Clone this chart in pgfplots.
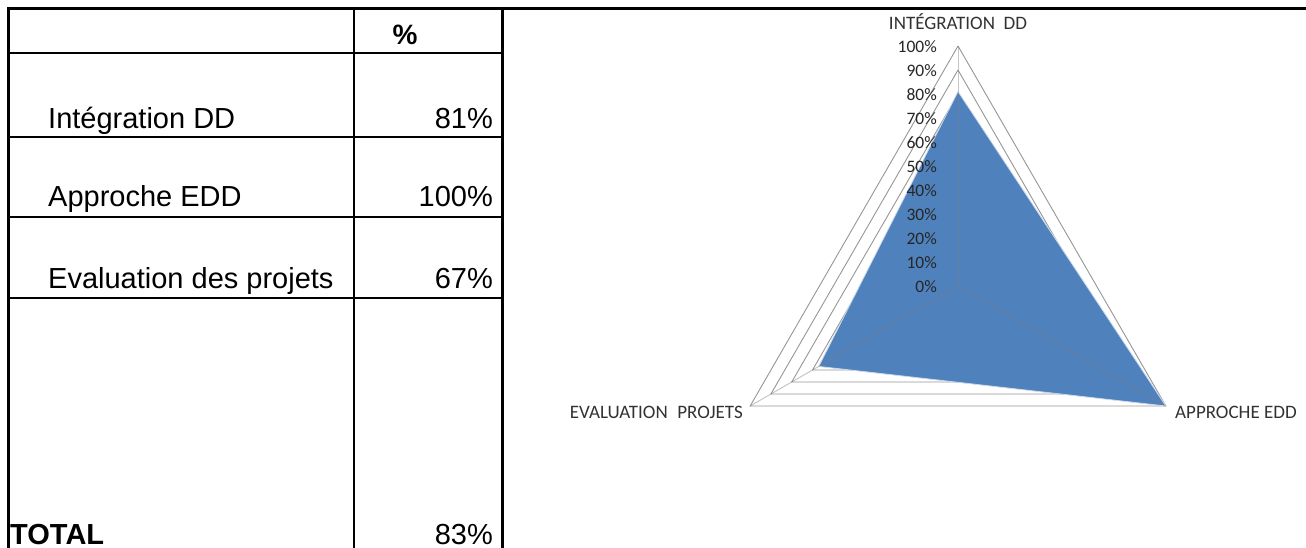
\documentclass[border=0pt]{standalone}
\usepackage{fontspec}
\setmainfont{Liberation Sans}
\newfontfamily\calfont{Carlito}
\usepackage{pgfplots}
\pgfplotsset{compat=1.18}
\usepgfplotslibrary{polar}
\definecolor{xlblue}{RGB}{79,129,189}
\definecolor{gridgray}{RGB}{150,150,150}
\definecolor{labgray}{RGB}{50,50,50}
\begin{document}
\begin{tikzpicture}
\useasboundingbox (0bp,0bp) rectangle (1306bp,548bp);
\begin{scope}[x=1bp,y=1bp]
\clip (0,0) rectangle (1306,548);
% table frame
\draw[line width=3bp] (7,539) -- (1306,539);
\draw[line width=2.5bp] (8.5,539) -- (8.5,0);
\draw[line width=2.5bp] (502.5,539) -- (502.5,0);
\draw[line width=1.5bp] (354,539) -- (354,0);
\foreach \yy in {495,411,331,250}{\draw[line width=1.5bp] (8,\yy) -- (502,\yy);}
% table text
\tikzset{tt/.style={inner sep=0pt,font=\fontsize{29bp}{34bp}\selectfont}}
\node[tt,anchor=base,font=\fontsize{28bp}{34bp}\selectfont\bfseries] at (405,503) {\%};
\node[tt,anchor=base west] at (48,419) {Intégration DD};
\node[tt,anchor=base east] at (493,419) {81\%};
\node[tt,anchor=base west] at (48,342) {Approche EDD};
\node[tt,anchor=base east] at (493,342) {100\%};
\node[tt,anchor=base west] at (48,260) {Evaluation des projets};
\node[tt,anchor=base east] at (493,260) {67\%};
\node[tt,anchor=base west,font=\fontsize{29bp}{34bp}\selectfont\bfseries] at (10,4) {TOTAL};
\node[tt,anchor=base east] at (493,4) {83\%};
% category labels
\node[anchor=base, inner sep=0pt, text=labgray, font=\calfont\fontsize{19bp}{22bp}\selectfont] at (958,518) {INTÉGRATION\ \ DD};
\node[anchor=base east, inner sep=0pt, text=labgray, font=\calfont\fontsize{19bp}{22bp}\selectfont] at (743,130) {EVALUATION\hspace{0.5em}PROJETS};
\node[anchor=base west, inner sep=0pt, text=labgray, font=\calfont\fontsize{19bp}{22bp}\selectfont] at (1175,130) {APPROCHE EDD};
\end{scope}
% radar
\begin{polaraxis}[
  at={(958bp,262bp)}, anchor=center,
  scale only axis, width=480bp, height=480bp,
  ymin=0, ymax=100, xmin=0, xmax=360,
  hide axis, clip=false,
]
\pgfplotsinvokeforeach{10,20,...,100}{
  \addplot[gridgray, line width=0.9bp, forget plot] coordinates {(90,#1) (210,#1) (330,#1) (90,#1)};
}
\addplot[fill=xlblue, draw=white!70!xlblue, line width=0.8bp] coordinates {(90,81) (330,100) (210,67)} -- cycle;
\addplot[gray, opacity=0.45, line width=1bp] coordinates {(90,0) (90,100)};
\addplot[gray, opacity=0.45, line width=1bp] coordinates {(210,0) (210,100)};
\addplot[gray, opacity=0.45, line width=1bp] coordinates {(330,0) (330,100)};
\pgfplotsinvokeforeach{0,10,...,100}{
  \node[anchor=east, inner sep=0pt, xshift=-21bp, yshift=-1bp, text=black!85, font=\calfont\fontsize{17.5bp}{20bp}\selectfont] at (axis cs:90,#1) {#1\%};
}
\end{polaraxis}
\end{tikzpicture}
\end{document}
